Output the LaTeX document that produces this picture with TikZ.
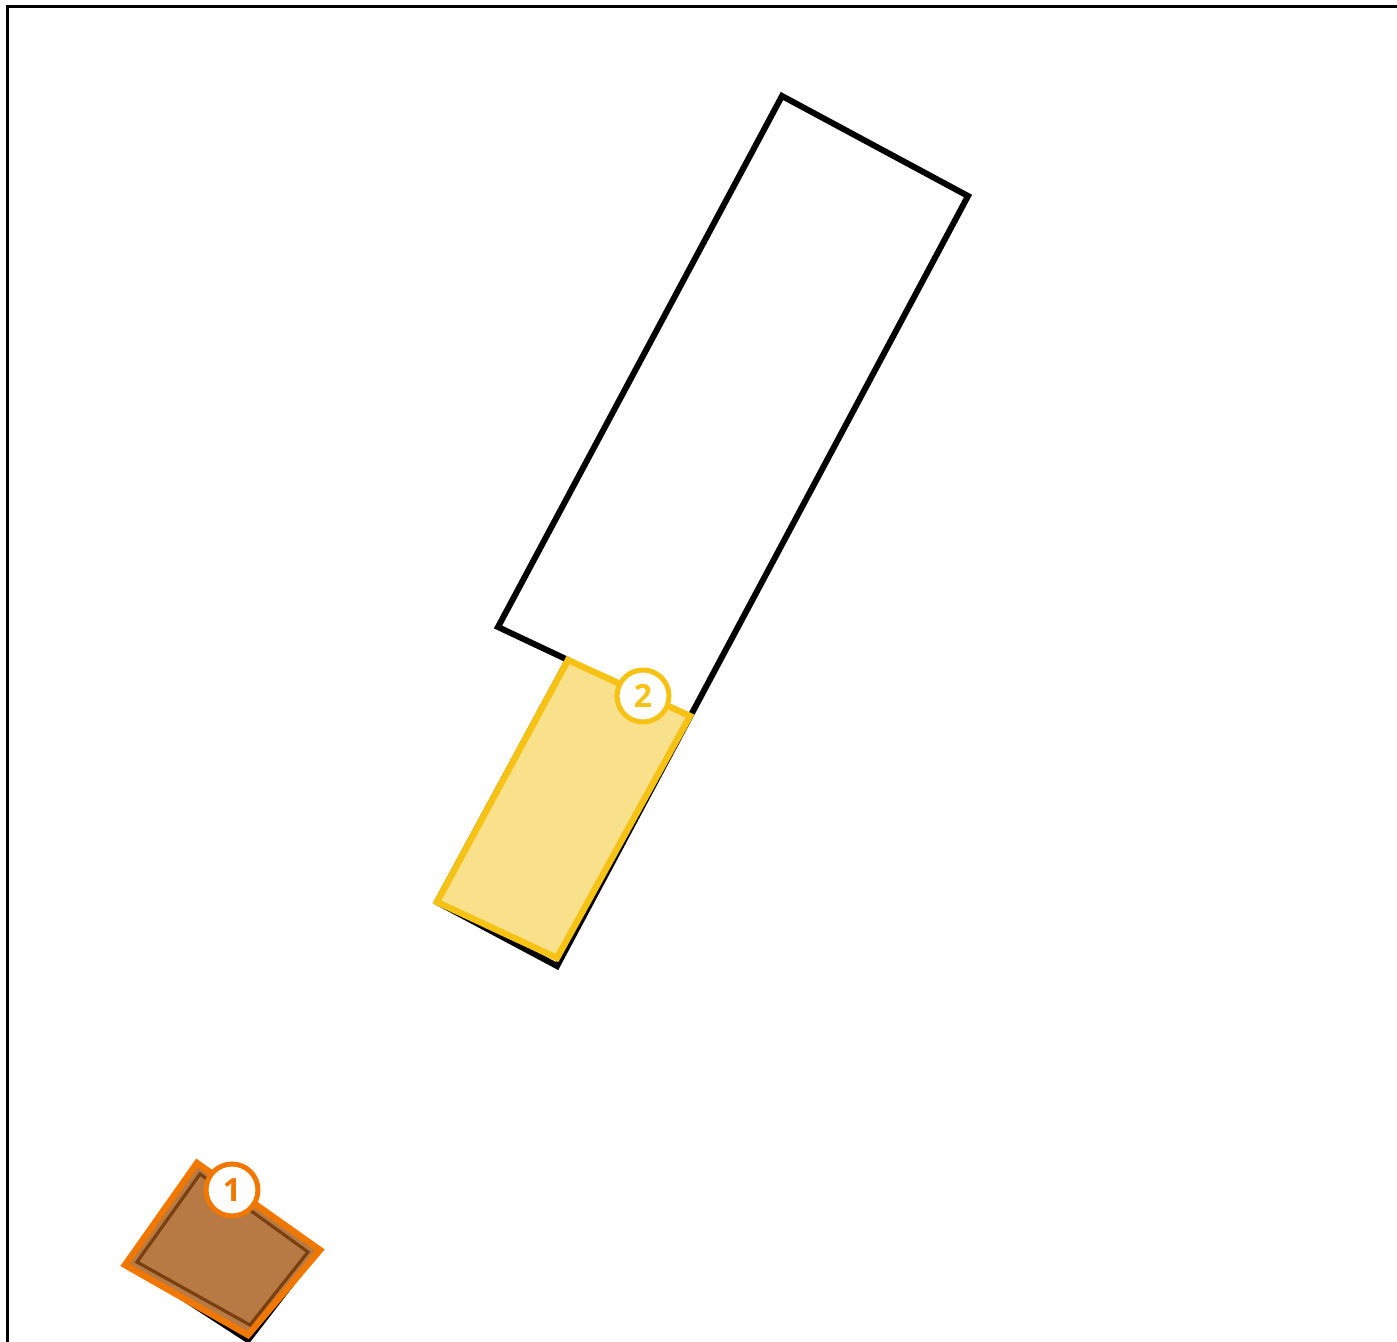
\documentclass[tikz,border=0pt]{standalone}
\usepackage{fontspec}
\setmainfont{Open Sans}
\usepackage{xcolor}
\definecolor{plotline}{HTML}{000000}
\definecolor{ylwfill}{HTML}{F9E08A}
\definecolor{ylwline}{HTML}{F6C213}
\definecolor{brnfill}{HTML}{B87A45}
\definecolor{brnline}{HTML}{7A4010}
\definecolor{orgline}{HTML}{F07800}

\begin{document}
\begin{tikzpicture}[x=0.5pt,y=-0.5pt,line join=miter]
\tikzset{tag/.style={circle,fill=white,draw=#1,text=#1,line width=2.5pt,minimum size=26pt,inner sep=0pt,font=\bfseries\fontsize{16}{16}\selectfont}}
\useasboundingbox(0,0)rectangle(1397,1342);
\draw[line width=1.5pt](7,1342)--(7,7)--(1397,7);
% building outline
\draw[line width=3pt](782,96)--(968,196)--(557,966)--(437,902)--(568,660)--(498,627)--cycle;
% part 2
\draw[line width=3.2pt,fill=ylwfill,draw=ylwline](568,660)--(690,716)--(557,958)--(437,902)--cycle;
\node[tag=ylwline](t2)at(643,696){2};
% part 1
\draw[line width=3pt](200,1168)--(316,1252)--(248,1340)--(128,1262)--cycle;
\draw[line width=3.2pt,fill=brnfill,draw=orgline](197,1163)--(320,1250)--(248,1335)--(125,1265)--cycle;
\draw[line width=1.6pt,brnline](200,1174)--(308,1252)--(250,1325)--(137,1262)--cycle;
\node[tag=orgline](t1)at(232,1190){1};
\end{tikzpicture}
\end{document}
